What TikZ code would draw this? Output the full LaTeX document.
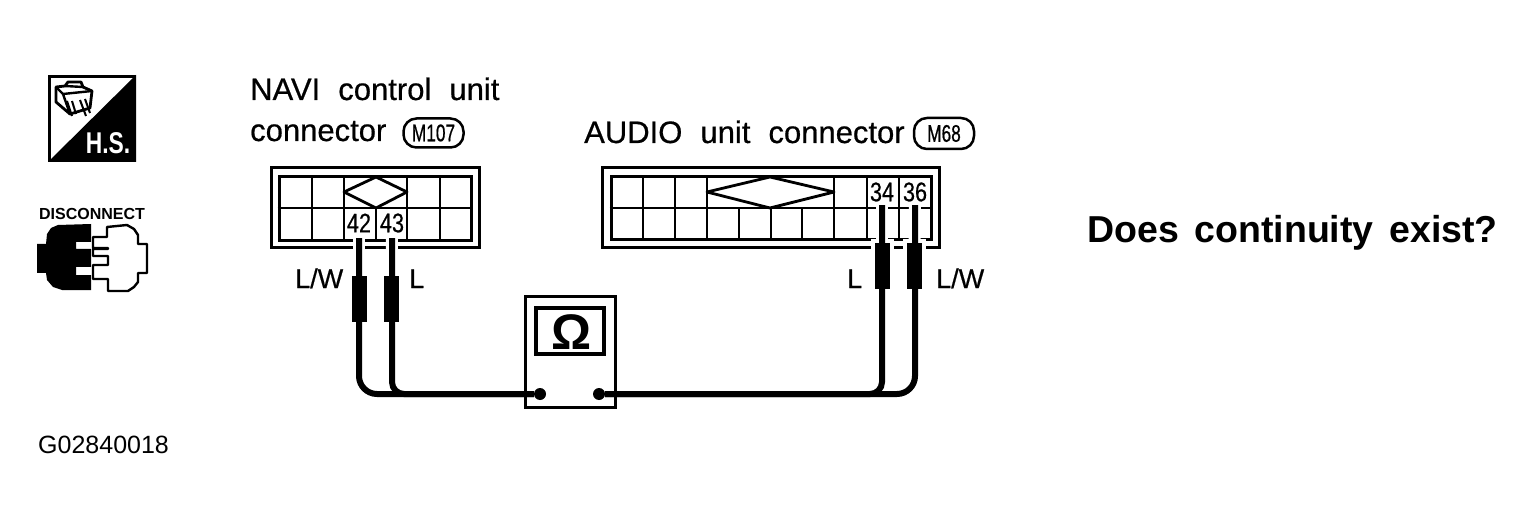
\documentclass[tikz,border=0pt]{standalone}
\usepackage{fontspec}
\setmainfont{Liberation Sans}
\newfontfamily\capfont[WordSpace=2.1,FakeBold=.6]{Liberation Sans}
\newfontfamily\pinfont[FakeStretch=.8,FakeBold=.4]{Liberation Sans}
\newfontfamily\badgefont[FakeStretch=.72,FakeBold=.6]{Liberation Sans}
\newfontfamily\hsfont[FakeStretch=.76]{Liberation Sans Bold}
\newfontfamily\askfont[WordSpace=1.5]{Liberation Sans Bold}
\usetikzlibrary{calc, positioning, shapes}
\begin{document}
\begin{tikzpicture}[x=1pt, y=-1pt,
  txt/.style={anchor=base west, inner sep=0pt, font=\capfont\fontsize{31}{31}\selectfont},
  wirelabel/.style={anchor=base west, inner sep=0pt, font=\capfont\fontsize{27}{27}\selectfont},
  pin/.style={inner sep=0pt, minimum width=24pt, font=\pinfont\fontsize{27}{27}\selectfont},
  badge/.style={draw, line width=2.5pt, rounded corners=13pt, inner sep=0pt, font=\badgefont\fontsize{24}{24}\selectfont},
  frame/.style={draw, line width=3pt, inner sep=0pt},
  grid/.style={line width=2.8pt},
  sleeve/.style={fill=black, draw=white, line width=4pt, minimum width=19pt, minimum height=50pt, inner sep=0pt},
  wire/.style={line width=6pt},
  halo/.style={draw=white, line width=12pt},
  term/.style={fill=black, circle, minimum size=12pt, inner sep=0pt}]
  \useasboundingbox (0,0) rectangle (1533,529);

  % H.S. icon
  \node[frame, minimum width=85pt, minimum height=84pt] (hs) at (92,118.5) {};
  \fill (hs.north east) -- (hs.south east) -- (hs.south west) -- cycle;
  \node[inner sep=0pt, text=white, font=\hsfont\fontsize{30}{30}\selectfont] (hstext) at (108,143) {H.S.};
  \draw[line width=2.8pt, line join=round] (56,87) -- (65,86) -- (68,82) -- (81,82) -- (83,87) -- (92,91) -- (90,108) -- (70,114) -- (56,102) -- cycle;
  \draw[line width=2.4pt, line join=round] (56,87) -- (63,94) -- (92,91) (63,94) -- (70,114) (65,86) -- (83,87);
  \draw[line width=2pt] (67,101) -- (72,116) (72,101) -- (76,114) (80,100) -- (86,116) (85,99) -- (90,113);

  % disconnect icon
  \node[inner sep=0pt, font=\bfseries\fontsize{16}{16}\selectfont] (disc) at (92,214) {DISCONNECT};
  \fill (58,225) -- (91,224) -- (91,242) -- (76,242) -- (76,249) -- (91,249) -- (91,267) -- (76,267) -- (76,275) -- (91,275) -- (91,290) -- (62,290) -- (53,287) -- (47,280) -- (46,273) -- (37,273) -- (37,244) -- (46,244) -- (47,234) -- (51,228) -- cycle;
  \draw[line width=2.4pt, line join=round] (93,237) -- (107,237) -- (107,227) -- (127,225) -- (134,229) -- (138,235) -- (138,244) -- (147,244) -- (147,273) -- (138,273) -- (138,282) -- (134,287) -- (128,291) -- (108,291) -- (108,279) -- (93,279) -- (93,265) -- (108,265) -- (108,256) -- (93,256) -- (93,249) -- (108,249) -- (108,248) -- (93,248) -- cycle;

  % titles
  \node[txt] (navi) at (250,100) {NAVI control unit};
  \node[txt] (navib) at (250,141) {connector};
  \node[badge, minimum width=60pt, minimum height=29pt] (m107) at (433.5,133) {M107};
  \node[txt] (audio) at (584,143) {AUDIO unit connector};
  \node[badge, minimum width=60pt, minimum height=31pt] (m68) at (944,133.5) {M68};

  % NAVI connector
  \node[frame, minimum width=208pt, minimum height=80pt] (cnavi) at (375,208) {};
  \node[frame, minimum width=192pt, minimum height=64pt] (inavi) at (375,209) {};
  \draw[grid] (inavi.west |- 0,208) -- (inavi.east |- 0,208);
  \foreach \x in {312,344,407,440} \draw[grid] (\x,177) -- (\x,208);
  \foreach \x in {312,344,376,407,440} \draw[grid] (\x,208) -- (\x,241);
  \draw[grid, line join=round] (376,177) -- (407,192) -- (376,208) -- (344,192) -- cycle;

  % AUDIO connector
  \node[frame, minimum width=337pt, minimum height=80pt] (caudio) at (770.5,208) {};
  \node[frame, minimum width=320pt, minimum height=63pt] (iaudio) at (771,208.5) {};
  \draw[grid] (iaudio.west |- 0,208) -- (iaudio.east |- 0,208);
  \foreach \x in {643,675,707,834,867,899} \draw[grid] (\x,177) -- (\x,208);
  \foreach \x in {643,675,707,739,802,834,899} \draw[grid] (\x,208) -- (\x,240);
  \foreach \x in {771,867} \draw[line width=1.2pt] (\x,208) -- (\x,240);
  \draw[grid, line join=round] (770,177) -- (834,192) -- (770,208) -- (707,192) -- cycle;

  % pins and sleeves
  \node[pin, minimum height=30pt] (p42) at (359,223) {42};
  \node[pin, minimum height=30pt] (p43) at (392,223) {43};
  \node[pin, minimum height=26pt] (p34) at (882,192) {34};
  \node[pin, minimum height=26pt] (p36) at (915,192) {36};
  \node[sleeve] (s42) at (359,298.5) {};
  \node[sleeve] (s43) at (391.5,298.5) {};
  \node[sleeve] (s34) at (882,266) {};
  \node[sleeve] (s36) at (914.5,266) {};
  \draw[halo] (p42.south) -- (s42);
  \draw[halo] (p43.south) -- (s43);
  \draw[halo] (p34.south) -- (s34);
  \draw[halo] (p36.south) -- (s36);

  % tester
  \node[frame, line width=3.5pt, minimum width=90pt, minimum height=111pt] (tester) at (570.5,352) {};
  \node[frame, line width=4pt, minimum width=68pt, minimum height=46pt] (screen) at (570,331) {};
  \node[inner sep=0pt, font=\bfseries\fontsize{50}{50}\selectfont] (ohm) at (572,332) {Ω};
  \node[term] (ta) at (540,394) {};
  \node[term] (tb) at (599,394) {};

  % wires
  \draw[wire, rounded corners=18pt] (p42.south) |- (ta);
  \draw[wire, rounded corners=12pt] (p43.south) |- (ta);
  \draw[wire, rounded corners=18pt] (p36.south) |- (tb);
  \draw[wire, rounded corners=12pt] (p34.south) |- (tb);

  % labels
  \node[wirelabel] (llw) at (295,288) {L/W};
  \node[wirelabel] (ll) at (409,288) {L};
  \node[wirelabel] (rl) at (847,288) {L};
  \node[wirelabel] (rlw) at (936,288) {L/W};
  \node[anchor=base west, inner sep=0pt, font=\askfont\fontsize{37.5}{37.5}\selectfont] (question) at (1087,243) {Does continuity exist?};
  \node[anchor=base west, inner sep=0pt, font=\fontsize{25}{25}\selectfont] (code) at (38,453) {G02840018};
\end{tikzpicture}
\end{document}
